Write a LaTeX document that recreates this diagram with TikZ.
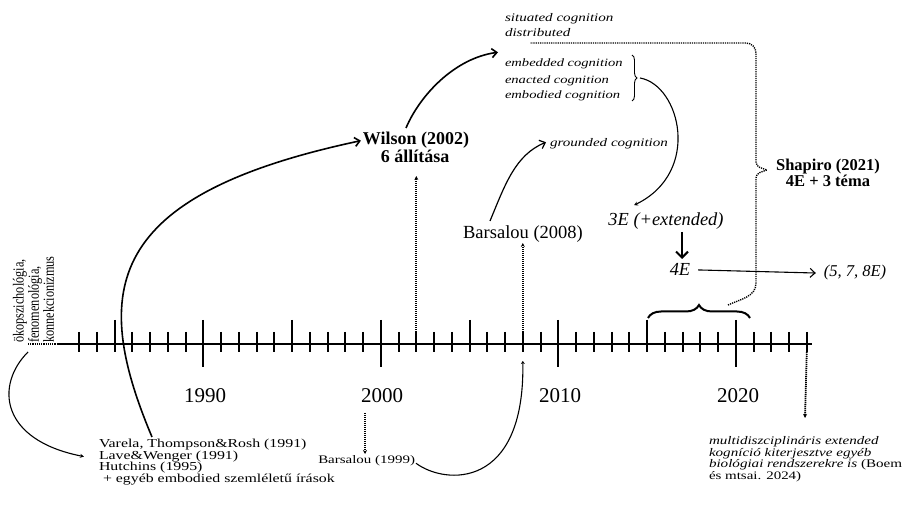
\documentclass[tikz,border=0pt]{standalone}
\usepackage{fontspec}
\setmainfont{Liberation Serif}
\newfontfamily\wide[FakeStretch=1.3]{Liberation Serif}
\usetikzlibrary{arrows.meta,decorations.pathreplacing}
\begin{document}
\begin{tikzpicture}[x=1pt,y=-1pt,
  every node/.style={inner sep=0pt, outer sep=0pt},
  tickln/.style={line width=2pt},
  axisln/.style={line width=2.4pt},
  dotln/.style={line width=1.8pt, dash pattern=on 1.2pt off 0.8pt},
  thindot/.style={line width=1.4pt, dash pattern=on 1.2pt off 1pt},
  curveln/.style={line width=1.6pt},
  thinc/.style={line width=1.1pt},
  openhd/.style={-{Straight Barb[length=5pt,width=9pt]}},
  dothd/.style={-{Stealth[length=4pt,width=4pt]}},
  yearlbl/.style={font=\fontsize{21}{21}\selectfont, anchor=base},
  boldlbl/.style={font=\fontsize{18}{18}\selectfont\bfseries, anchor=base},
  shaplbl/.style={font=\fontsize{16.5}{16.5}\selectfont\bfseries, anchor=base},
  reglbl/.style={font=\fontsize{18.5}{18.5}\selectfont, anchor=base},
  itlbl/.style={font=\fontsize{18.4}{18.4}\selectfont\itshape, anchor=base},
  smit/.style={font=\wide\fontsize{11.6}{11.6}\selectfont\itshape, anchor=base west},
  smrm/.style={font=\wide\fontsize{12.2}{12.2}\selectfont, anchor=base west},
]
\useasboundingbox (0,0) rectangle (906,510);

% ---------- axis ----------
\coordinate (axD) at (28,344);
\coordinate (axL) at (57,344);
\coordinate (axR) at (812,344);
\draw[thindot] (axD) -- (axL);
\draw[axisln] (axL) -- (axR);
\foreach \yr in {1990,2000,2010,2020}{
  \pgfmathsetmacro\xx{203.3+(\yr-1990)*17.75}
  \coordinate (tk\yr) at (\xx,320);
  \coordinate (tb\yr) at (\xx,367);
  \draw[tickln] (tk\yr) -- (tb\yr);
}
\foreach \yr in {1985,1995,2005,2015}{
  \pgfmathsetmacro\xx{203.3+(\yr-1990)*17.75}
  \coordinate (tk\yr) at (\xx,320);
  \coordinate (tb\yr) at (\xx,352);
  \draw[tickln] (tk\yr) -- (tb\yr);
}
\foreach \yr in {1983,1984,1986,1987,1988,1989,1991,1992,1993,1994,1996,1997,1998,1999,2001,2002,2003,2004,2006,2007,2008,2009,2011,2012,2013,2014,2016,2017,2018,2019,2021,2022,2023,2024}{
  \pgfmathsetmacro\xx{203.3+(\yr-1990)*17.75}
  \coordinate (tk\yr) at (\xx,332);
  \coordinate (tb\yr) at (\xx,352);
  \draw[tickln] (tk\yr) -- (tb\yr);
}

% ---------- year labels ----------
\node[yearlbl] (y1990) at (205,403) {1990};
\node[yearlbl] (y2000) at (382,403) {2000};
\node[yearlbl] (y2010) at (560,403) {2010};
\node[yearlbl] (y2020) at (738,403) {2020};

% ---------- rotated text ----------
\node[rotate=90, anchor=north west, font=\fontsize{12.3}{11.6}\selectfont] (eco) at (13,343)
  {\scalebox{1}[1.25]{\begin{tabular}{@{}l@{}}ökopszichológia,\\fenomenológia,\\konnekcionizmus\end{tabular}}};

% ---------- bottom left texts ----------
\node[smrm] (var1) at (99,448) {Varela, Thompson\&Rosh (1991)};
\node[smrm] (var2) at (99,459.5) {Lave\&Wenger (1991)};
\node[smrm] (var3) at (99,471) {Hutchins (1995)};
\node[smrm] (var4) at (103,482.5) {+ egyéb embodied szemléletű írások};
\node[font=\wide\fontsize{11.5}{11.5}\selectfont, anchor=base east] (bar99) at (415,464) {Barsalou (1999)};

% ---------- multi text ----------
\node[smit] (mul1) at (709,445) {multidiszciplináris extended};
\node[smit] (mul2) at (709,456.7) {kogníció kiterjesztve egyéb};
\node[smit] (mul3) at (709,468) {biológiai rendszerekre is \upshape(Boem};
\node[smrm, font=\wide\fontsize{11.5}{11.5}\selectfont] (mul4) at (709,480) {és mtsai. 2024)};

% ---------- middle labels ----------
\node[boldlbl] (wil1) at (416,145) {Wilson (2002)};
\node[boldlbl] (wil2) at (415,163) {6 állítása};
\node[reglbl] (bar08) at (523,239) {Barsalou (2008)};
\node[itlbl] (e3) at (666,226) {3E (+extended)};
\node[itlbl] (e4) at (680,276) {4E};
\node[font=\fontsize{16.5}{16.5}\selectfont\itshape, anchor=base] (e578) at (855,277) {(5, 7, 8E)};
\node[shaplbl] (sh1) at (828,171) {Shapiro (2021)};
\node[shaplbl] (sh2) at (828,187) {4E + 3 téma};

% ---------- top texts ----------
\node[smit] (sit1) at (505,22) {situated cognition};
\node[smit] (sit2) at (505,37) {distributed};
\node[smit, font=\wide\fontsize{11.2}{11.2}\selectfont\itshape] (emb1) at (505,67) {embedded cognition};
\node[smit, font=\wide\fontsize{11.2}{11.2}\selectfont\itshape] (emb2) at (505,84) {enacted cognition};
\node[smit, font=\wide\fontsize{11.2}{11.2}\selectfont\itshape] (emb3) at (505,99) {embodied cognition};
\node[smit] (grd) at (550,147) {grounded cognition};

% brace after embedded group
\coordinate (brT) at (632,55);
\coordinate (brB) at (632,101);
\coordinate (brTip) at (640,78);
\draw[decorate, decoration={brace, amplitude=5pt}, line width=0.9pt] (brT) -- (brB);

% bottom brace over 2015-2021
\coordinate (bbL) at (648,318);
\coordinate (bbR) at (750,318);
\draw[decorate, decoration={brace, amplitude=13pt}, line width=2pt] (bbL) -- (bbR);

% dotted Shapiro brace
\coordinate (dStart) at (728,305);
\coordinate (dEnd) at (530,43);
\draw[thindot] (dStart) to[out=25,in=-90] (756,283) -- (756,178)
   to[out=90,in=200] (767,170) to[out=160,in=-90] (756,162)
   -- (756,53) to[out=90,in=0] (746,43) -- (dEnd);

% ---------- connectors ----------
% Varela -> Wilson big curve
\coordinate (varTop) at (152,437);
\draw[curveln, openhd] (varTop) .. controls (90,290) and (105,195) .. ([xshift=-2pt]wil1.west);
% axis start -> Lave&Wenger
\draw[thinc, -{Stealth[length=4pt,width=4pt]}] (axD) ++(0,8) .. controls (-5,385) and (0,440) .. ([xshift=-15pt]var2.west);
% Wilson -> embedded
\coordinate (wilTop) at (406,128);
\draw[curveln, -{Straight Barb[length=5pt,width=9pt]}] (wilTop) .. controls (420,95) and (455,58) .. ([xshift=-7pt,yshift=12pt]emb1.west);
% Barsalou 2008 -> grounded
\coordinate (barTop) at (490,221);
\draw[line width=1.2pt, openhd] (barTop) .. controls (505,185) and (515,155) .. ([xshift=-4pt,yshift=2pt]grd.west);
% brace -> 3E
\draw[thinc, -{Stealth[length=4pt,width=4pt]}] (brTip) .. controls (680,85) and (702,172) .. ([xshift=-32pt,yshift=8pt]e3.north);
% 3E -> 4E
\coordinate (e3b) at (682,232);
\coordinate (e4t) at (682,259);
\draw[line width=2pt, -{Straight Barb[length=6pt,width=12pt]}] (e3b) -- (e4t);
% 4E -> (5,7,8E)
\draw[thinc, openhd] ([xshift=8pt]e4.east) -- ([xshift=-8pt]e578.west);
% dotted arrows up
\coordinate (wilTip) at (416.3,176);
\draw[dotln, dothd] (tk2002) -- (wilTip);
\coordinate (barTip) at (522.8,243);
\draw[dotln, dothd] (tk2008) -- (barTip);
% dotted arrow 2000 label down
\coordinate (d00a) at (365,413);
\coordinate (d00b) at (365,454);
\draw[dotln, dothd] (d00a) -- (d00b);
% dotted arrow 2024 down
\coordinate (d24b) at (805,418);
\draw[dotln, dothd] (tb2024) -- (d24b);
% Barsalou 1999 -> 2008
\coordinate (b99end) at (522.8,361);
\draw[thinc, -{Stealth[length=3pt,width=4pt]}] ([xshift=1pt,yshift=-2pt]bar99.east) .. controls (445,485) and (525,490) .. (b99end);
\end{tikzpicture}
\end{document}
